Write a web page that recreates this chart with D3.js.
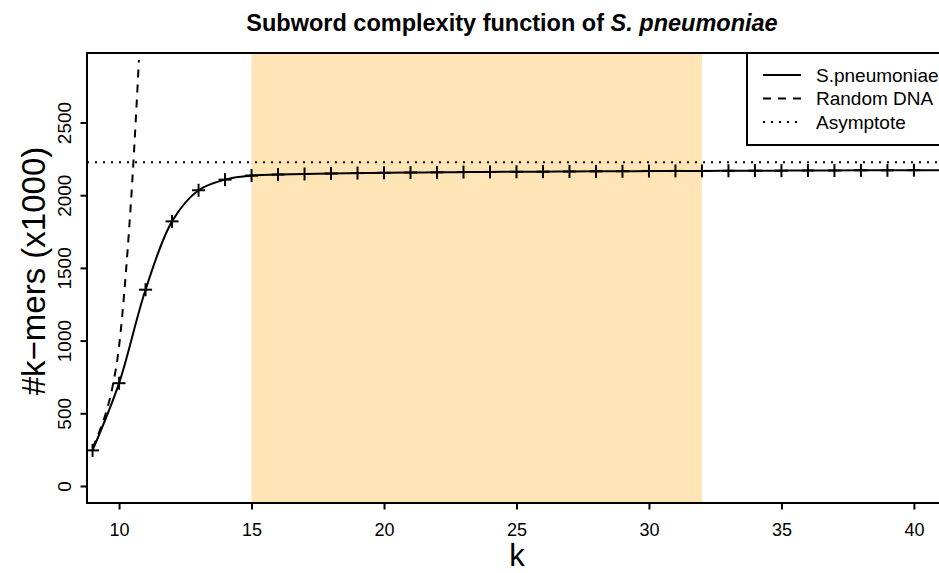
<!DOCTYPE html>
<html>
<head>
<meta charset="utf-8">
<script src="https://cdn.jsdelivr.net/npm/d3@7/dist/d3.min.js"></script>
<style>
  html, body { margin: 0; padding: 0; background: #fff; }
  svg { display: block; font-family: "Liberation Sans", Arial, Helvetica, sans-serif; }
</style>
</head>
<body>
<svg id="chart" width="939" height="573"></svg>
<script>
// ---- data ----
const kValues = [9,10,11,12,13,14,15,16,17,18,19,20,21,22,23,24,25,26,27,28,29,30,31,32,33,34,35,36,37,38,39,40,41,42];
const kmerCounts = [245,707,1350,1820,2034,2107,2135,2142,2146,2149,2152,2154,2156,2157,2159,2160,2161,2162,2163,2164,2165,2166,2167,2167,2168,2169,2169,2170,2170,2171,2171,2172,2172,2173];
const markedMaxK = 40;
const randomK = [9, 9.25, 9.5, 9.75, 10, 10.25, 10.5, 10.75];
const randomCounts = [262, 370, 500, 680, 960, 1450, 2100, 2930];
const asymptote = 2227;
const highlightRange = [15, 32];
const xTicks = [10, 15, 20, 25, 30, 35, 40];
const yTicks = [0, 500, 1000, 1500, 2000, 2500];
const legendLabels = ["S.pneumoniae", "Random DNA", "Asymptote"];

// ---- layout ----
const svg = d3.select("#chart");
const pL = 87, pT = 53, pB = 503, pR = 942;
const x = d3.scaleLinear().domain([8.79, 41.06]).range([pL, pR]);
const y = d3.scaleLinear().domain([-117, 2978]).range([pB, pT]);

svg.append("defs").append("clipPath").attr("id", "plotclip")
  .append("rect").attr("x", pL).attr("y", pT).attr("width", pR - pL).attr("height", pB - pT);

const plot = svg.append("g").attr("clip-path", "url(#plotclip)");

// highlight band
plot.append("rect")
  .attr("x", x(highlightRange[0])).attr("y", pT)
  .attr("width", x(highlightRange[1]) - x(highlightRange[0]))
  .attr("height", pB - pT)
  .attr("fill", "#FFE4B5");

// asymptote
plot.append("line")
  .attr("x1", pL).attr("x2", pR)
  .attr("y1", y(asymptote)).attr("y2", y(asymptote))
  .attr("stroke", "#000").attr("stroke-width", 2).attr("stroke-dasharray", "2,6");

// random DNA
const randData = randomK.map((k, i) => [k, randomCounts[i]]);
plot.append("path")
  .attr("d", d3.line().x(d => x(d[0])).y(d => y(d[1])).curve(d3.curveMonotoneX)(randData))
  .attr("fill", "none").attr("stroke", "#000").attr("stroke-width", 2).attr("stroke-dasharray", "8,7");

// S. pneumoniae curve
const data = kValues.map((k, i) => [k, kmerCounts[i]]);
plot.append("path")
  .attr("d", d3.line().x(d => x(d[0])).y(d => y(d[1])).curve(d3.curveCatmullRom.alpha(0.5))(data))
  .attr("fill", "none").attr("stroke", "#000").attr("stroke-width", 2);

// crosses
const cs = 6.5;
const marks = plot.append("g").selectAll("g").data(data.filter(d => d[0] <= markedMaxK)).join("g")
  .attr("transform", d => `translate(${x(d[0])},${y(d[1])})`);
marks.append("line").attr("x1", -cs).attr("x2", cs).attr("y1", 0).attr("y2", 0).attr("stroke", "#000").attr("stroke-width", 2);
marks.append("line").attr("x1", 0).attr("x2", 0).attr("y1", -cs).attr("y2", cs).attr("stroke", "#000").attr("stroke-width", 2);

// axes
const xAxis = svg.append("g").attr("transform", `translate(0,${pB})`)
  .call(d3.axisBottom(x).tickValues(xTicks).tickSize(6.5).tickFormat(d3.format("d")));
xAxis.select(".domain").remove();
xAxis.selectAll(".tick line").attr("stroke-width", 2);
xAxis.selectAll(".tick text").attr("font-size", 18).attr("fill", "#000")
  .attr("font-family", "Liberation Sans, Arial, sans-serif").attr("dy", null).attr("y", 33);

const yAxis = svg.append("g").attr("transform", `translate(${pL},0)`)
  .call(d3.axisLeft(y).tickValues(yTicks).tickSize(6.5).tickFormat(d3.format("d")));
yAxis.select(".domain").remove();
yAxis.selectAll(".tick line").attr("stroke-width", 2);
yAxis.selectAll(".tick text")
  .attr("font-size", 19).attr("fill", "#000")
  .attr("font-family", "Liberation Sans, Arial, sans-serif")
  .attr("x", null).attr("dy", null)
  .attr("text-anchor", "middle")
  .attr("transform", "translate(-16,0) rotate(-90)");

// box
svg.append("path")
  .attr("d", `M${pR},${pT}H${pL}V${pB}H${pR}`)
  .attr("fill", "none").attr("stroke", "#000").attr("stroke-width", 2);

// legend
const lg = svg.append("g");
lg.append("rect").attr("x", 747).attr("y", pT).attr("width", 200).attr("height", 92)
  .attr("fill", "#fff").attr("stroke", "#000").attr("stroke-width", 2);
const dashes = [null, "8,7", "2,6"];
legendLabels.forEach((lab, i) => {
  const yy = 75 + i * 23.5;
  lg.append("line").attr("x1", 763).attr("x2", 801).attr("y1", yy).attr("y2", yy)
    .attr("stroke", "#000").attr("stroke-width", 2).attr("stroke-dasharray", dashes[i]);
  lg.append("text").attr("x", 816).attr("y", yy).attr("dy", "0.35em")
    .attr("font-size", 19).text(lab);
});

// titles
const title = svg.append("text").attr("x", 512).attr("y", 31).attr("text-anchor", "middle")
  .attr("font-size", 23.5).attr("font-weight", "bold");
title.append("tspan").text("Subword complexity function of ");
title.append("tspan").attr("font-style", "italic").text("S. pneumoniae");

svg.append("text").attr("x", 517).attr("y", 566).attr("text-anchor", "middle")
  .attr("font-size", 31).text("k");

svg.append("text").attr("transform", `translate(45,271) rotate(-90)`)
  .attr("text-anchor", "middle").attr("font-size", 33).text("#k\u2212mers (x1000)");
</script>
</body>
</html>
